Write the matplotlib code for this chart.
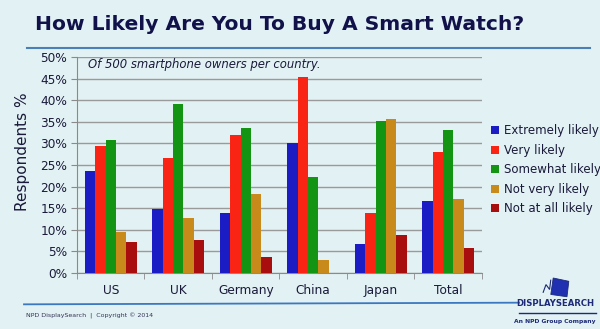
import matplotlib
matplotlib.use("Agg")
import matplotlib.pyplot as plt
import numpy as np
from matplotlib.patches import Polygon

categories = ["US", "UK", "Germany", "China", "Japan", "Total"]
series_names = ["Extremely likely", "Very likely", "Somewhat likely",
                "Not very likely", "Not at all likely"]
extremely = [23.5, 14.8, 13.8, 30.2, 6.6, 16.6]
very = [29.5, 26.6, 31.9, 45.3, 13.9, 28.1]
somewhat = [30.8, 39.1, 33.6, 22.2, 35.1, 33.0]
not_very = [9.5, 12.7, 18.4, 2.9, 35.6, 17.2]
not_at_all = [7.1, 7.7, 3.6, 0.0, 8.9, 5.9]
yticks = [0, 5, 10, 15, 20, 25, 30, 35, 40, 45, 50]

colors = ["#1c1cc4", "#fa2414", "#139413", "#c98a1c", "#a80e0e"]
bg = "#e2f1f3"
text_col = "#1a1a3a"
logo_col = "#1c2a78"

fig = plt.figure(figsize=(6.0, 3.29), dpi=100, facecolor=bg)

# Title and rule beneath it
fig.text(0.058, 0.925, "How Likely Are You To Buy A Smart Watch?",
         fontsize=14.6, fontweight="bold", color="#12124a",
         ha="left", va="center", family="DejaVu Sans")
fig.add_artist(plt.Line2D([0.045, 0.983], [0.855, 0.855],
                          color="#4a7fb8", lw=1.5, transform=fig.transFigure))

ax = fig.add_axes([0.1283, 0.1702, 0.675, 0.6565])
ax.set_facecolor("none")

series = [extremely, very, somewhat, not_very, not_at_all]
x = np.arange(len(categories))
bw = 0.153
for i, (vals, c, name) in enumerate(zip(series, colors, series_names)):
    ax.bar(x + (i - 2) * bw, vals, width=bw, color=c, label=name,
           edgecolor="none", zorder=3)

ax.set_xlim(-0.5, len(categories) - 0.5)
ax.set_ylim(0, 50)
ax.set_yticks(yticks)
ax.set_yticklabels([f"{t}%" for t in yticks], fontsize=8.7, color=text_col)
ax.set_xticks(x)
ax.set_xticklabels(categories, fontsize=8.7, color=text_col)
ax.set_xticks(np.arange(len(categories) + 1) - 0.5, minor=True)
ax.tick_params(axis="x", which="major", length=0, pad=8)
ax.tick_params(axis="x", which="minor", length=4, color="#8a8a8a")
ax.tick_params(axis="y", length=4, color="#8a8a8a", pad=3)
ax.yaxis.grid(True, color="#9a9a9a", lw=1.0, zorder=0)
for s in ["top", "right"]:
    ax.spines[s].set_visible(False)
for s in ["left", "bottom"]:
    ax.spines[s].set_color("#8a8a8a")
ax.set_ylabel("Respondents %", fontsize=11, color=text_col, labelpad=6)
ax.yaxis.set_label_coords(-0.115, 0.56)

ax.text(0.027, 0.965, "Of 500 smartphone owners per country.",
        transform=ax.transAxes, fontsize=8.4, style="italic",
        color=text_col, ha="left", va="center")

leg = ax.legend(loc="upper left", bbox_to_anchor=(1.01, 0.71),
                frameon=False, fontsize=8.5, handlelength=0.7,
                handleheight=0.7, handletextpad=0.4, labelspacing=0.55,
                borderaxespad=0)
for t in leg.get_texts():
    t.set_color(text_col)

# Footer rule and credit line
fig.add_artist(plt.Line2D([0.04, 0.865], [0.075, 0.08],
                          color="#3c78c0", lw=1.3, transform=fig.transFigure))
fig.text(0.043, 0.039, "NPD DisplaySearch  |  Copyright \u00a9 2014",
         fontsize=4.5, color="#333355", ha="left", va="center")

# Logo block
fig.text(0.925, 0.078, "DISPLAYSEARCH", fontsize=6.1, fontweight="bold",
         color=logo_col, ha="center", va="center")
fig.add_artist(plt.Line2D([0.865, 0.993], [0.05, 0.05],
                          color=logo_col, lw=1.0, transform=fig.transFigure))
fig.text(0.925, 0.022, "An NPD Group Company", fontsize=4.3, fontweight="bold",
         color=logo_col, ha="center", va="center")
fig.add_artist(Polygon([[0.918, 0.105], [0.945, 0.098], [0.948, 0.145],
                        [0.922, 0.155]], closed=True,
                       facecolor="#2030b0", edgecolor=logo_col, lw=0.6,
                       transform=fig.transFigure))
fig.add_artist(Polygon([[0.905, 0.110], [0.910, 0.135], [0.916, 0.120],
                        [0.918, 0.150]], closed=False, fill=False,
                       edgecolor=logo_col, lw=0.8,
                       transform=fig.transFigure))

fig.savefig("out.png", dpi=100, facecolor=bg)
